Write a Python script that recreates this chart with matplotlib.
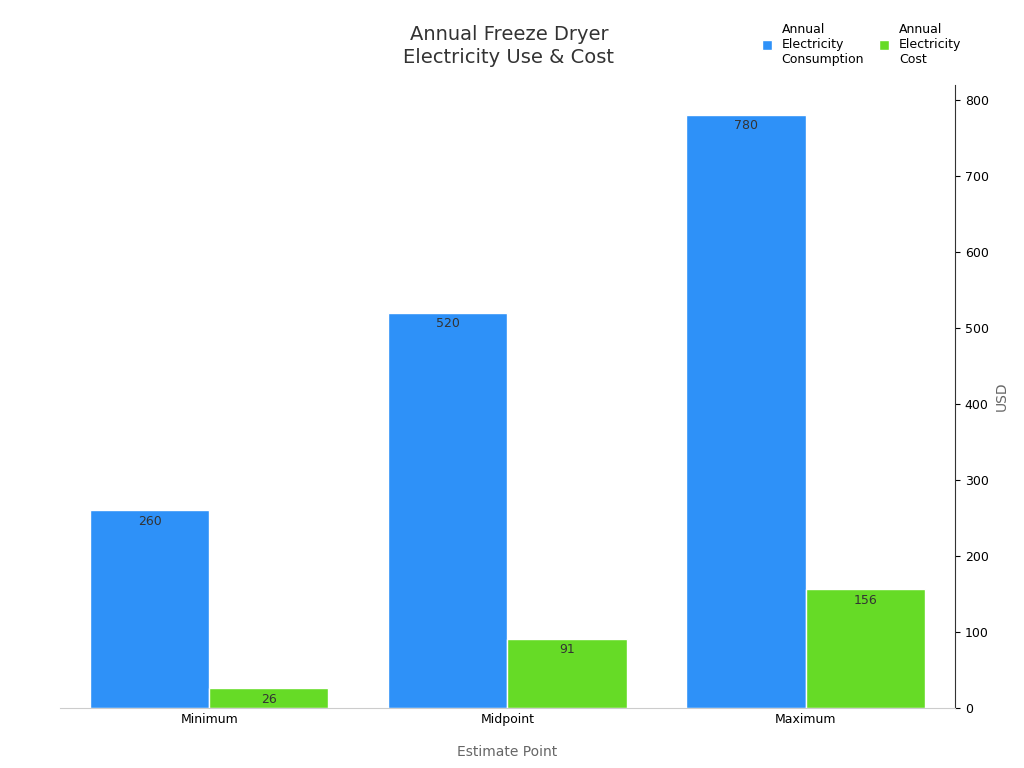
import matplotlib
matplotlib.use("Agg")
import matplotlib.pyplot as plt
import numpy as np

categories = ["Minimum", "Midpoint", "Maximum"]
consumption = [260, 520, 780]
cost = [26, 91, 156]
series_names = ["Annual\nElectricity\nConsumption", "Annual\nElectricity\nCost"]

fig = plt.figure(figsize=(10.24, 7.68), dpi=100)
ax = fig.add_axes([0.0586, 0.078, 0.874, 0.811])
x = np.arange(len(categories))
w = 0.4
b1 = ax.bar(x - w/2, consumption, w, color="#2E91F8", edgecolor="white", linewidth=1, label=series_names[0])
b2 = ax.bar(x + w/2, cost, w, color="#66DB26", edgecolor="white", linewidth=1, label=series_names[1])
for bars in (b1, b2):
    for r in bars:
        ax.text(r.get_x() + r.get_width()/2, r.get_height() - 6, f"{int(r.get_height())}",
                ha="center", va="top", fontsize=9, color="#333333")

ax.set_xlim(-0.5, 2.5)
ax.set_ylim(0, 819)
ax.set_xticks(x)
ax.set_xticklabels(categories, fontsize=9)
ax.yaxis.tick_right()
ax.yaxis.set_label_position("right")
ax.set_yticks(range(0, 801, 100))
ax.tick_params(axis="y", labelsize=9)
ax.tick_params(axis="x", length=0)
ax.set_ylabel("USD", fontsize=10, color="#666666")
ax.set_xlabel("Estimate Point", fontsize=10, color="#666666", labelpad=14)
for s in ["top", "left"]:
    ax.spines[s].set_visible(False)
ax.spines["bottom"].set_color("#cccccc")
ax.spines["right"].set_color("#333333")

fig.text(0.497, 0.94, "Annual Freeze Dryer\nElectricity Use & Cost", ha="center", va="center",
         fontsize=14, color="#333333", linespacing=1.3)
fig.legend(handles=[b1, b2], loc="upper right", bbox_to_anchor=(0.95, 0.985), ncol=2,
           frameon=False, fontsize=9, handlelength=0.8, handleheight=0.8, columnspacing=1.2)
fig.savefig("out.png", dpi=100)
